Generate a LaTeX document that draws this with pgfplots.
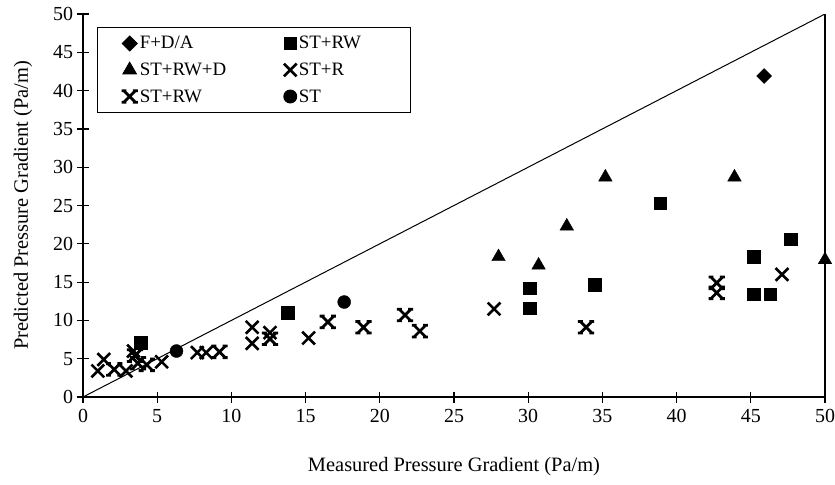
\documentclass[border=0pt]{standalone}
\usepackage{fontspec}
\setmainfont{Liberation Serif}
\usepackage{pgfplots}
\pgfplotsset{compat=1.18}
\pgfdeclareplotmark{xbar}{%
  \pgfpathmoveto{\pgfqpoint{-\pgfplotmarksize}{-\pgfplotmarksize}}%
  \pgfpathlineto{\pgfqpoint{\pgfplotmarksize}{\pgfplotmarksize}}%
  \pgfpathmoveto{\pgfqpoint{-\pgfplotmarksize}{\pgfplotmarksize}}%
  \pgfpathlineto{\pgfqpoint{\pgfplotmarksize}{-\pgfplotmarksize}}%
  \pgfpathmoveto{\pgfqpoint{-1.4\pgfplotmarksize}{\pgfplotmarksize}}%
  \pgfpathlineto{\pgfqpoint{-0.55\pgfplotmarksize}{\pgfplotmarksize}}%
  \pgfpathmoveto{\pgfqpoint{0.55\pgfplotmarksize}{\pgfplotmarksize}}%
  \pgfpathlineto{\pgfqpoint{1.4\pgfplotmarksize}{\pgfplotmarksize}}%
  \pgfpathmoveto{\pgfqpoint{-1.4\pgfplotmarksize}{-\pgfplotmarksize}}%
  \pgfpathlineto{\pgfqpoint{-0.55\pgfplotmarksize}{-\pgfplotmarksize}}%
  \pgfpathmoveto{\pgfqpoint{0.55\pgfplotmarksize}{-\pgfplotmarksize}}%
  \pgfpathlineto{\pgfqpoint{1.4\pgfplotmarksize}{-\pgfplotmarksize}}%
  \pgfusepathqstroke}
\begin{document}
\begin{tikzpicture}
\path[use as bounding box] (-83bp,-88bp) rectangle (752bp,397bp);
\begin{axis}[
  at={(0,0)}, anchor=south west,
  scale only axis, width=742bp, height=383bp,
  xmin=0, xmax=50, ymin=0, ymax=50,
  xtick={0,5,...,50}, ytick={0,5,...,50},
  axis x line*=bottom, axis y line*=box,
  ytick pos=left,
  tick align=center, major tick length=11bp,
  axis line style={line width=1.5bp},
  every tick/.style={line width=1.2bp, black},
  /pgf/number format/assume math mode=true,
  ticklabel style={font=\fontsize{20}{22}\selectfont},
  xticklabel style={yshift=-3bp},
  yticklabel style={xshift=-1bp},
  xlabel={Measured Pressure Gradient (Pa/m)},
  ylabel={Predicted Pressure Gradient (Pa/m)},
  label style={font=\fontsize{20.5}{22}\selectfont},
  xlabel style={yshift=-28bp},
  ylabel style={yshift=14bp},
  legend columns=2,
  legend cell align=left,
  legend style={at={(0.019,0.966)}, anchor=north west, draw=black, line width=0.9bp,
    font=\fontsize{19}{21}\selectfont, inner xsep=24bp, inner ysep=7bp,
    /tikz/every even column/.append style={column sep=32bp},
    row sep=8.5bp},
  legend image code/.code={\draw[#1] plot coordinates {(0bp,0bp)};},
]
\addplot[black, line width=1bp, forget plot] coordinates {(0,0) (50,50)};
\addplot[only marks, mark=square*, mark options={rotate=45}, mark size=5.3bp, black] coordinates {(45.9,41.9)};
\addlegendentry{\makebox[110bp][l]{F+D/A}}
\addplot[only marks, mark=square*, mark size=6.3bp, black] coordinates {
(3.9,7.1) (13.8,11.0) (30.1,14.2) (30.1,11.6) (34.5,14.7) (38.9,25.3)
(45.2,18.3) (45.2,13.4) (46.3,13.4) (47.7,20.6)};
\addlegendentry{\makebox[86bp][l]{ST+RW}}
\addplot[only marks, mark=triangle*, mark size=7.8bp, black] coordinates {
(28.0,18.3) (30.7,17.2) (32.6,22.3) (35.2,28.7) (43.9,28.7) (50.0,17.9)};
\addlegendentry{ST+RW+D}
\addplot[only marks, mark=x, mark size=9bp, black, line width=2.6bp] coordinates {
(1.0,3.4) (1.4,4.9) (2.9,3.4) (5.3,4.6) (7.7,5.8) (8.3,5.8) (11.4,9.1) (11.4,7.0)
(12.6,8.4) (15.2,7.7) (27.7,11.5) (47.1,16.0) (3.4,6.0)};
\addlegendentry{ST+R}
\addplot[only marks, mark=xbar, mark size=5.8bp, black, line width=2.8bp] coordinates {
(2.1,3.6) (3.5,5.4) (3.7,4.4) (4.3,4.2) (9.2,5.9) (12.6,7.6) (16.5,9.8) (18.9,9.1)
(21.7,10.7) (22.7,8.6) (33.9,9.1) (42.7,14.9) (42.7,13.6)};
\addlegendentry{ST+RW}
\addplot[only marks, mark=*, mark size=6.5bp, black] coordinates {(6.3,6.0) (17.6,12.4)};
\addlegendentry{ST}
\end{axis}
\end{tikzpicture}
\end{document}
